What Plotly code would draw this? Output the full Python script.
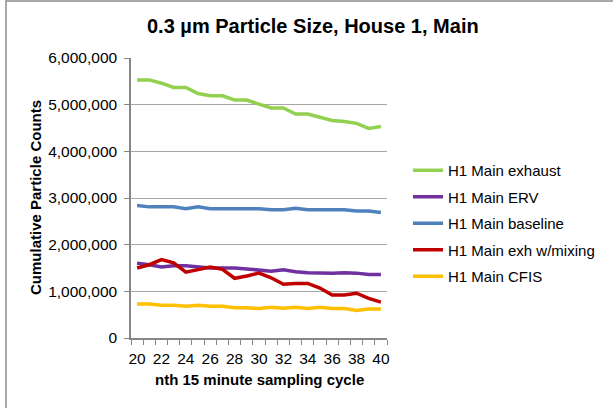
import plotly.graph_objects as go

cycles = list(range(20, 41))
exhaust = [5.53, 5.53, 5.46, 5.37, 5.37, 5.24, 5.19, 5.19, 5.10, 5.10, 5.01,
           4.93, 4.93, 4.80, 4.80, 4.73, 4.66, 4.64, 4.60, 4.49, 4.53]
erv = [1.60, 1.57, 1.52, 1.55, 1.55, 1.53, 1.50, 1.50, 1.50, 1.48, 1.46,
       1.43, 1.46, 1.42, 1.40, 1.39, 1.39, 1.40, 1.39, 1.36, 1.36]
baseline = [2.84, 2.81, 2.81, 2.81, 2.77, 2.81, 2.77, 2.77, 2.77, 2.77, 2.77,
            2.75, 2.75, 2.78, 2.75, 2.75, 2.75, 2.75, 2.72, 2.72, 2.69]
exh_mixing = [1.50, 1.57, 1.68, 1.61, 1.41, 1.47, 1.52, 1.47, 1.28, 1.33, 1.39,
              1.29, 1.15, 1.17, 1.17, 1.07, 0.92, 0.92, 0.96, 0.85, 0.77]
cfis = [0.73, 0.73, 0.70, 0.70, 0.68, 0.70, 0.68, 0.68, 0.65, 0.65, 0.63,
        0.66, 0.64, 0.66, 0.63, 0.66, 0.63, 0.63, 0.59, 0.62, 0.62]

series = [
    ("H1 Main exhaust", exhaust, "#92D050"),
    ("H1 Main ERV", erv, "#7030A0"),
    ("H1 Main baseline", baseline, "#4F81BD"),
    ("H1 Main exh w/mixing", exh_mixing, "#C00000"),
    ("H1 Main CFIS", cfis, "#FFC000"),
]

y_ticks = [0, 1000000, 2000000, 3000000, 4000000, 5000000, 6000000]
y_labels = ["0", "1,000,000", "2,000,000", "3,000,000", "4,000,000", "5,000,000", "6,000,000"]
x_ticks = list(range(20, 41, 2))

fig = go.Figure()
for i, (name, vals, color) in enumerate(series):
    fig.add_trace(go.Scatter(
        x=cycles, y=[v * 1e6 for v in vals], name=name, mode="lines",
        line=dict(color=color, width=3.5), legendgroup=str(i),
    ))

W, H = 613, 408
ml, mr, mt, mb = 131, 226, 58, 70
pw, ph = W - ml - mr, H - mt - mb

def px_x(p):
    return (p - ml) / pw

def px_y(p):
    return (H - mb - p) / ph

font = "Liberation Sans, Arial, sans-serif"

fig.update_layout(
    width=W, height=H,
    margin=dict(l=ml, r=mr, t=mt, b=mb),
    paper_bgcolor="white", plot_bgcolor="white",
    font=dict(family=font, size=15, color="#000000"),
    showlegend=True,
    legend=dict(x=px_x(408), y=px_y(154), xanchor="left", yanchor="top",
                font=dict(size=15), tracegroupgap=4, bgcolor="rgba(0,0,0,0)"),
    xaxis=dict(
        range=[19.5, 40.5], tickmode="array", tickvals=x_ticks,
        ticktext=[str(v) for v in x_ticks], ticks="", showgrid=False,
        showline=True, linecolor="#868686", linewidth=1.5, zeroline=False,
        tickfont=dict(size=15.5), ticklabelstandoff=6,
        minor=dict(tick0=19.5, dtick=1, ticks="outside", ticklen=5,
                   tickcolor="#868686", tickwidth=1, showgrid=False),
    ),
    yaxis=dict(
        range=[0, 6000000], tickmode="array", tickvals=y_ticks, ticktext=y_labels,
        ticks="outside", ticklen=5, tickcolor="#868686", showgrid=True,
        gridcolor="#A6A6A6", gridwidth=1, showline=True, linecolor="#868686",
        linewidth=1.5, zeroline=False, tickfont=dict(size=15.5),
        ticklabelstandoff=4,
    ),
    annotations=[
        dict(text="<b>0.3 µm Particle Size, House 1, Main</b>", xref="paper", yref="paper",
             x=px_x(313), y=px_y(26), xanchor="center", yanchor="middle",
             showarrow=False, font=dict(size=20)),
        dict(text="<b>Cumulative Particle Counts</b>", xref="paper", yref="paper",
             x=px_x(35), y=px_y(198), xanchor="center", yanchor="middle",
             textangle=-90, showarrow=False, font=dict(size=15)),
        dict(text="<b>nth 15 minute sampling cycle</b>", xref="paper", yref="paper",
             x=px_x(259), y=px_y(379), xanchor="center", yanchor="middle",
             showarrow=False, font=dict(size=15)),
    ],
    shapes=[
        dict(type="rect", xref="paper", yref="paper",
             x0=px_x(6), x1=px_x(640), y0=px_y(440), y1=px_y(1),
             line=dict(color="#8C8C8C", width=1.5), fillcolor="rgba(0,0,0,0)"),
    ],
)

fig.write_html("out.html", config={"displayModeBar": False},
               post_script="document.body.style.margin='0px';")
